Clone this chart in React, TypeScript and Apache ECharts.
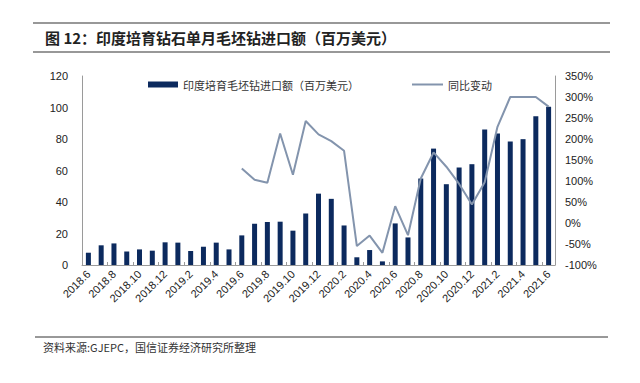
import React, { useEffect, useRef } from "react";
import * as echarts from "echarts";

const categories = [
  "2018.6", "2018.7", "2018.8", "2018.9", "2018.10", "2018.11", "2018.12",
  "2019.1", "2019.2", "2019.3", "2019.4", "2019.5", "2019.6", "2019.7", "2019.8",
  "2019.9", "2019.10", "2019.11", "2019.12", "2020.1", "2020.2", "2020.3", "2020.4",
  "2020.5", "2020.6", "2020.7", "2020.8", "2020.9", "2020.10", "2020.11", "2020.12",
  "2021.1", "2021.2", "2021.3", "2021.4", "2021.5", "2021.6",
];

const importValues = [
  7.8, 12.5, 13.7, 8.5, 9.9, 9.1, 14.4, 14.2, 8.9, 11.6, 14.2, 9.9,
  18.8, 26.2, 27.3, 27.5, 21.8, 32.7, 45.3, 42, 25.1, 4.9, 9.5, 2.3,
  26.4, 17.5, 54.9, 73.9, 51.3, 61.9, 64, 86, 83.5, 78.4, 79.9, 94.4, 100.4,
];

const yoyValues: (number | null)[] = [
  null, null, null, null, null, null, null, null, null, null, null, null,
  130, 103, 96, 213, 115, 243, 211, 195, 172, -55, -30, -71,
  40, -29, 106, 168, 134, 93, 44, 97, 229, 300, 300, 300, 277,
];

const barName = "印度培育毛坯钻进口额（百万美元）";
const lineName = "同比变动";
const titleText = "图 12：印度培育钻石单月毛坯钻进口额（百万美元）";
const sourceText = "资料来源:GJEPC，国信证券经济研究所整理";

export default function App() {
  const ref = useRef<HTMLDivElement>(null);
  useEffect(() => {
    if (!ref.current) return;
    const chart = echarts.init(ref.current, undefined, { renderer: "svg" });
    const axisFont = { fontFamily: "Liberation Sans, Arial, sans-serif", fontSize: 11, color: "#222" };
    chart.setOption({
      animation: false,
      backgroundColor: "#ffffff",
      grid: { left: 82, right: 85, top: 76, bottom: 118, containLabel: false },
      legend: [
        {
          data: [{ name: barName, icon: "rect" }],
          left: 143,
          top: 74,
          itemWidth: 30,
          itemHeight: 6,
          textStyle: { fontFamily: "Noto Sans CJK SC", fontSize: 11, color: "#333" },
        },
        {
          data: [{ name: lineName, icon: "rect" }],
          left: 407,
          top: 74,
          itemWidth: 31,
          itemHeight: 2,
          textStyle: { fontFamily: "Noto Sans CJK SC", fontSize: 11, color: "#333" },
        },
      ],
      xAxis: {
        type: "category",
        data: categories,
        axisLine: { lineStyle: { color: "#9a9a9a" } },
        axisTick: { show: true, inside: true, length: 3, lineStyle: { color: "#9a9a9a" } },
        axisLabel: { ...axisFont, interval: 1, rotate: 45, margin: 7 },
      },
      yAxis: [
        {
          type: "value",
          min: 0,
          max: 120,
          interval: 20,
          axisLine: { show: true, lineStyle: { color: "#9a9a9a" } },
          axisTick: { show: false },
          splitLine: { show: false },
          axisLabel: { ...axisFont, margin: 14 },
        },
        {
          type: "value",
          min: -100,
          max: 350,
          interval: 50,
          axisLine: { show: true, lineStyle: { color: "#9a9a9a" } },
          axisTick: { show: false },
          splitLine: { show: false },
          axisLabel: { ...axisFont, margin: 10, formatter: "{value}%" },
        },
      ],
      series: [
        {
          name: barName,
          type: "bar",
          data: importValues,
          barWidth: 5,
          itemStyle: { color: "#0c2a5e" },
        },
        {
          name: lineName,
          type: "line",
          yAxisIndex: 1,
          data: yoyValues,
          symbol: "none",
          lineStyle: { color: "#8394ad", width: 2 },
          itemStyle: { color: "#8394ad" },
        },
      ],
      graphic: [
        { type: "line", shape: { x1: 33, y1: 23, x2: 610, y2: 23 }, style: { stroke: "#333", lineWidth: 1.2 } },
        { type: "line", shape: { x1: 33, y1: 52, x2: 610, y2: 52 }, style: { stroke: "#333", lineWidth: 1.2 } },
        {
          type: "text",
          x: 45,
          y: 37,
          style: {
            text: titleText,
            fontFamily: "Noto Sans CJK SC",
            fontSize: 15,
            fontWeight: "bold",
            fill: "#222",
            verticalAlign: "middle",
          },
        },
        { type: "line", shape: { x1: 35, y1: 337, x2: 608, y2: 337 }, style: { stroke: "#333", lineWidth: 1 } },
        {
          type: "text",
          x: 43,
          y: 347,
          style: {
            text: sourceText,
            fontFamily: "Noto Sans CJK SC",
            fontSize: 11,
            fill: "#333",
            verticalAlign: "middle",
          },
        },
      ],
    });
    return () => chart.dispose();
  }, []);
  return (
    <div
      ref={ref}
      style={{ position: "fixed", left: 0, top: 0, width: 640, height: 383, background: "#fff" }}
    />
  );
}
